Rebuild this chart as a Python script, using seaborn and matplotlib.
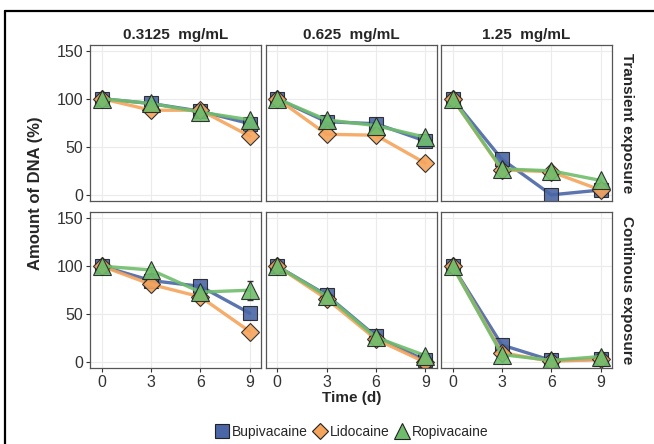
import numpy as np
import pandas as pd
import seaborn as sns
import matplotlib.pyplot as plt
from matplotlib.lines import Line2D

days = [0, 3, 6, 9]
drugs = ['Bupivacaine', 'Lidocaine', 'Ropivacaine']
doses = ['0.3125  mg/mL', '0.625  mg/mL', '1.25  mg/mL']
exposures = ['Transient exposure', 'Continous exposure']

# transient exposure
tr_bup = [[100, 95, 87, 74], [100, 76, 74, 56], [100, 37, 0, 5]]
tr_lid = [[100, 88, 88, 61], [100, 63, 62, 33], [100, 26, 24, 5]]
tr_rop = [[100, 95, 86, 78], [100, 78, 72, 60], [100, 27, 25, 15]]
# continous exposure
co_bup = [[100, 85, 79, 51], [100, 70, 27, 2], [100, 18, 2, 3]]
co_lid = [[100, 81, 68, 32], [100, 66, 24, 0], [100, 10, 1, 3]]
co_rop = [[100, 96, 73, 75], [100, 69, 26, 7], [100, 8, 2, 6]]
# small error bars
co_rop_sd = [[2, 3, 3, 10], [2, 3, 3, 2], [2, 2, 1, 2]]

colors = {'Bupivacaine': '#4a66a6', 'Lidocaine': '#f5a45c', 'Ropivacaine': '#6fbd6c'}
markers = {'Bupivacaine': 's', 'Lidocaine': 'D', 'Ropivacaine': '^'}
msize = {'Bupivacaine': 10.5, 'Lidocaine': 9.5, 'Ropivacaine': 12.5}

rows = []
vals = {('Transient exposure', 'Bupivacaine'): tr_bup,
        ('Transient exposure', 'Lidocaine'): tr_lid,
        ('Transient exposure', 'Ropivacaine'): tr_rop,
        ('Continous exposure', 'Bupivacaine'): co_bup,
        ('Continous exposure', 'Lidocaine'): co_lid,
        ('Continous exposure', 'Ropivacaine'): co_rop}
for (ex, dr), arr in vals.items():
    for k, dose in enumerate(doses):
        for t, v in zip(days, arr[k]):
            rows.append({'exposure': ex, 'drug': dr, 'dose': dose, 'time': t, 'dna': v})
df = pd.DataFrame(rows)

sns.set_style('whitegrid')
plt.rcParams['font.family'] = ['Liberation Sans', 'DejaVu Sans']

fig, axes = plt.subplots(2, 3, figsize=(6.54, 4.44), dpi=100, sharex=True, sharey=True)
fig.subplots_adjust(left=0.138, right=0.936, top=0.899, bottom=0.171, wspace=0.025, hspace=0.075)

for i, ex in enumerate(exposures):
    for j, dose in enumerate(doses):
        ax = axes[i, j]
        sub = df[(df.exposure == ex) & (df.dose == dose)]
        for dr in drugs:
            d = sub[sub.drug == dr]
            if ex == 'Continous exposure' and dr == 'Ropivacaine':
                ax.errorbar(d.time, d.dna, yerr=co_rop_sd[j], fmt='none', ecolor='#333333',
                            elinewidth=0.8, capsize=2, zorder=1)
            sns.lineplot(x=d.time, y=d.dna, ax=ax, color=colors[dr], lw=2.4, alpha=0.9,
                         marker=markers[dr], markersize=msize[dr], markeredgecolor='#222222',
                         markeredgewidth=0.8, markerfacecolor=colors[dr])
        ax.set_xlim(-0.7, 9.7)
        ax.set_ylim(-6, 156)
        ax.set_xticks(days)
        ax.set_yticks([0, 50, 100, 150])
        ax.set_xlabel('')
        ax.set_ylabel('')
        ax.grid(True, color='#ebebeb', lw=0.8)
        for s in ax.spines.values():
            s.set_color('#555555')
            s.set_linewidth(0.9)
        ax.tick_params(axis='both', labelsize=11.5, labelcolor='#333333', color='#333333',
                       length=3, width=0.8, direction='out', pad=2,
                       bottom=(i == 1), left=(j == 0))
        if i == 0:
            ax.set_title(dose, fontsize=11, fontweight='bold', pad=4)
        if j == 2:
            ax.text(1.085, 0.5, ex, transform=ax.transAxes, rotation=-90, va='center',
                    ha='center', fontsize=11, fontweight='bold')

fig.text(0.054, 0.565, 'Amount of DNA (%)', rotation=90, va='center', ha='center',
         fontsize=12, fontweight='bold')
fig.text(0.537, 0.103, 'Time (d)', ha='center', va='center', fontsize=11, fontweight='bold')

handles = [Line2D([], [], ls='none', marker=markers[d], markersize=msize[d] - 1,
                  markerfacecolor=colors[d], markeredgecolor='#222222', markeredgewidth=0.8)
           for d in drugs]
fig.legend(handles, drugs, loc='center', bbox_to_anchor=(0.537, 0.027), ncol=3, frameon=False,
           fontsize=10, handletextpad=0.1, columnspacing=0.3, handlelength=1.2)

# frame lines at the left and top edge
fig.add_artist(Line2D([5.5 / 654, 5.5 / 654], [0, 1 - 11 / 444], color='black', lw=1.6,
                      transform=fig.transFigure))
fig.add_artist(Line2D([5.5 / 654, 1], [1 - 11 / 444, 1 - 11 / 444], color='black', lw=1.6,
                      transform=fig.transFigure))

plt.savefig('out.png', dpi=100)
